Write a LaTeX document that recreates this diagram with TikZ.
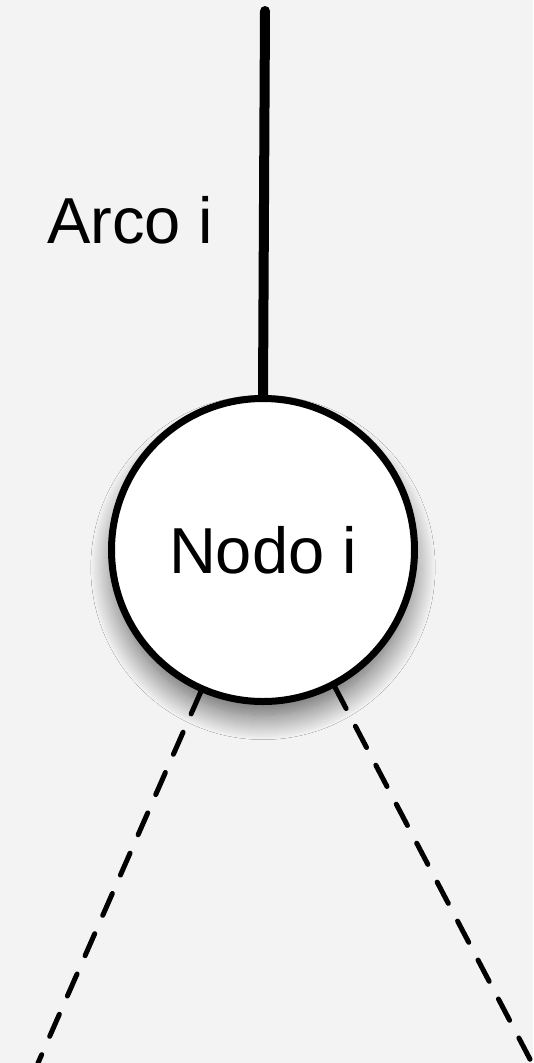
\documentclass[tikz,border=0pt]{standalone}
\usepackage{fontspec}
\setmainfont{Liberation Sans}
\usetikzlibrary{shadows.blur}
\definecolor{bg}{HTML}{F3F3F3}
\tikzset{
  nodecircle/.style={circle, draw=black, line width=7pt, fill=white, minimum size=303pt, inner sep=0pt,
    blur shadow={shadow xshift=0pt, shadow yshift=-18pt, shadow scale=0.97, shadow blur radius=26pt, shadow blur steps=25, shadow opacity=65}},
  bigtext/.style={font=\fontsize{65}{78}\selectfont},
  arc/.style={line width=10pt, line cap=round},
  dasharc/.style={line width=5pt, line cap=round, dash pattern=on 24pt off 20pt}
}
\begin{document}
\begin{tikzpicture}[x=1pt,y=-1pt]
\fill[bg] (0,0) rectangle (533,1063);
\useasboundingbox (0,0) rectangle (533,1063);
\coordinate (top) at (265,11);
\coordinate (endL) at (38,1063);
\coordinate (endR) at (532,1063);
\node[nodecircle, bigtext] (n) at (263,550) {Nodo i};
\draw[arc] (top) -- (n.north);
\draw[dasharc] (n) -- (endL);
\draw[dasharc] (n) -- (endR);
\node[bigtext, anchor=base west, inner sep=0pt] (lab) at (47,243) {Arco i};
\end{tikzpicture}
\end{document}
